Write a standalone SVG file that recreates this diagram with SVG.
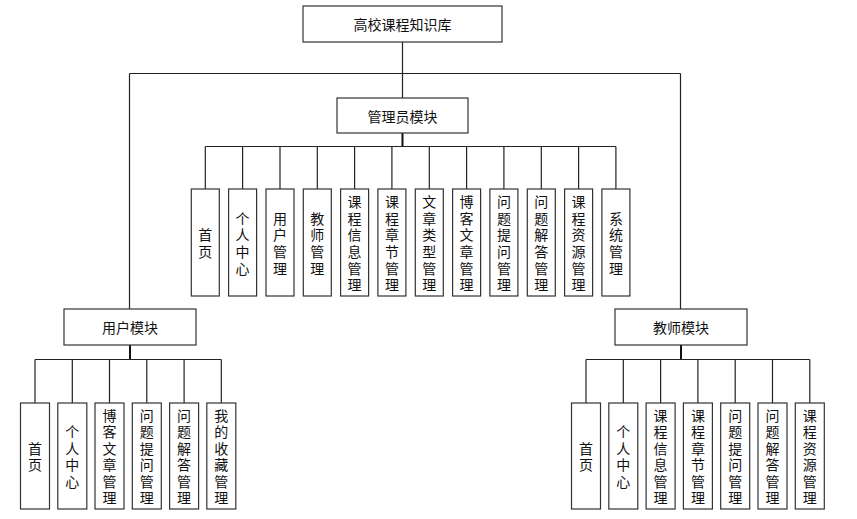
<svg xmlns="http://www.w3.org/2000/svg" width="857" height="519" viewBox="0 0 857 519">
<style>
.bg{fill:#fff}
.box{fill:#fff;stroke:#333;stroke-width:1.2}
.ln{fill:none;stroke:#222;stroke-width:1.2}
.stub{fill:none;stroke:#111;stroke-width:2}
.t{font-family:"Noto Sans CJK SC","Microsoft YaHei",sans-serif;font-size:14px;fill:#111;text-anchor:middle;dominant-baseline:central}
.v{font-family:"Noto Sans CJK SC","Microsoft YaHei",sans-serif;font-size:14px;fill:#111;text-anchor:middle;dominant-baseline:central}
</style>
<rect class="bg" x="0" y="0" width="857" height="519"/>
<g id="connectors">
<path class="ln" d="M402.5 42 V98"/>
<path class="ln" d="M129.5 73.5 H680.5 M129.5 73.5 V309 M680.5 73.5 V309"/>
<path class="stub" d="M402.5 133 V146.5"/>
<path class="ln" d="M205.3 146.5 H615.9 M205.3 146.5 V189 M242.6 146.5 V189 M280 146.5 V189 M317.3 146.5 V189 M354.6 146.5 V189 M391.9 146.5 V189 M429.3 146.5 V189 M466.6 146.5 V189 M503.9 146.5 V189 M541.3 146.5 V189 M578.6 146.5 V189 M615.9 146.5 V189"/>
<path class="stub" d="M130 345 V359.5"/>
<path class="ln" d="M35 359.5 H221.3 M35 359.5 V403 M72.3 359.5 V403 M109.5 359.5 V403 M146.8 359.5 V403 M184.1 359.5 V403 M221.3 359.5 V403"/>
<path class="stub" d="M681 345 V359.5"/>
<path class="ln" d="M586 359.5 H809.8 M586 359.5 V403 M623.3 359.5 V403 M660.6 359.5 V403 M697.9 359.5 V403 M735.2 359.5 V403 M772.5 359.5 V403 M809.8 359.5 V403"/>
</g>
<g id="root"><rect class="box" x="303" y="6" width="199" height="36"/><text class="t" x="402.5" y="24">高校课程知识库</text></g>
<g id="admin"><rect class="box" x="337" y="98" width="131" height="35"/><text class="t" x="402.5" y="115.5">管理员模块</text></g>
<g id="user"><rect class="box" x="64" y="309" width="132" height="36"/><text class="t" x="130" y="327">用户模块</text></g>
<g id="teacher"><rect class="box" x="615" y="309" width="132" height="36"/><text class="t" x="681" y="327">教师模块</text></g>

<g id="a1"><rect class="box" x="191.3" y="189" width="28" height="107"/><text class="v" x="205.3"><tspan x="205.3" y="234.2">首</tspan><tspan x="205.3" y="250.9">页</tspan></text></g>
<g id="a2"><rect class="box" x="228.6" y="189" width="28" height="107"/><text class="v"><tspan x="242.6" y="217.5">个</tspan><tspan x="242.6" y="234.2">人</tspan><tspan x="242.6" y="250.9">中</tspan><tspan x="242.6" y="267.6">心</tspan></text></g>
<g id="a3"><rect class="box" x="266" y="189" width="28" height="107"/><text class="v"><tspan x="280" y="217.5">用</tspan><tspan x="280" y="234.2">户</tspan><tspan x="280" y="250.9">管</tspan><tspan x="280" y="267.6">理</tspan></text></g>
<g id="a4"><rect class="box" x="303.3" y="189" width="28" height="107"/><text class="v"><tspan x="317.3" y="217.5">教</tspan><tspan x="317.3" y="234.2">师</tspan><tspan x="317.3" y="250.9">管</tspan><tspan x="317.3" y="267.6">理</tspan></text></g>
<g id="a5"><rect class="box" x="340.6" y="189" width="28" height="107"/><text class="v"><tspan x="354.6" y="200.8">课</tspan><tspan x="354.6" y="217.5">程</tspan><tspan x="354.6" y="234.2">信</tspan><tspan x="354.6" y="250.9">息</tspan><tspan x="354.6" y="267.6">管</tspan><tspan x="354.6" y="284.3">理</tspan></text></g>
<g id="a6"><rect class="box" x="377.9" y="189" width="28" height="107"/><text class="v"><tspan x="391.9" y="200.8">课</tspan><tspan x="391.9" y="217.5">程</tspan><tspan x="391.9" y="234.2">章</tspan><tspan x="391.9" y="250.9">节</tspan><tspan x="391.9" y="267.6">管</tspan><tspan x="391.9" y="284.3">理</tspan></text></g>
<g id="a7"><rect class="box" x="415.3" y="189" width="28" height="107"/><text class="v"><tspan x="429.3" y="200.8">文</tspan><tspan x="429.3" y="217.5">章</tspan><tspan x="429.3" y="234.2">类</tspan><tspan x="429.3" y="250.9">型</tspan><tspan x="429.3" y="267.6">管</tspan><tspan x="429.3" y="284.3">理</tspan></text></g>
<g id="a8"><rect class="box" x="452.6" y="189" width="28" height="107"/><text class="v"><tspan x="466.6" y="200.8">博</tspan><tspan x="466.6" y="217.5">客</tspan><tspan x="466.6" y="234.2">文</tspan><tspan x="466.6" y="250.9">章</tspan><tspan x="466.6" y="267.6">管</tspan><tspan x="466.6" y="284.3">理</tspan></text></g>
<g id="a9"><rect class="box" x="489.9" y="189" width="28" height="107"/><text class="v"><tspan x="503.9" y="200.8">问</tspan><tspan x="503.9" y="217.5">题</tspan><tspan x="503.9" y="234.2">提</tspan><tspan x="503.9" y="250.9">问</tspan><tspan x="503.9" y="267.6">管</tspan><tspan x="503.9" y="284.3">理</tspan></text></g>
<g id="a10"><rect class="box" x="527.3" y="189" width="28" height="107"/><text class="v"><tspan x="541.3" y="200.8">问</tspan><tspan x="541.3" y="217.5">题</tspan><tspan x="541.3" y="234.2">解</tspan><tspan x="541.3" y="250.9">答</tspan><tspan x="541.3" y="267.6">管</tspan><tspan x="541.3" y="284.3">理</tspan></text></g>
<g id="a11"><rect class="box" x="564.6" y="189" width="28" height="107"/><text class="v"><tspan x="578.6" y="200.8">课</tspan><tspan x="578.6" y="217.5">程</tspan><tspan x="578.6" y="234.2">资</tspan><tspan x="578.6" y="250.9">源</tspan><tspan x="578.6" y="267.6">管</tspan><tspan x="578.6" y="284.3">理</tspan></text></g>
<g id="a12"><rect class="box" x="601.9" y="189" width="28" height="107"/><text class="v"><tspan x="615.9" y="217.5">系</tspan><tspan x="615.9" y="234.2">统</tspan><tspan x="615.9" y="250.9">管</tspan><tspan x="615.9" y="267.6">理</tspan></text></g>

<g id="u1"><rect class="box" x="20.5" y="403" width="29" height="106"/><text class="v"><tspan x="35" y="447.8">首</tspan><tspan x="35" y="464.2">页</tspan></text></g>
<g id="u2"><rect class="box" x="57.8" y="403" width="29" height="106"/><text class="v"><tspan x="72.3" y="431.4">个</tspan><tspan x="72.3" y="447.8">人</tspan><tspan x="72.3" y="464.2">中</tspan><tspan x="72.3" y="480.6">心</tspan></text></g>
<g id="u3"><rect class="box" x="95" y="403" width="29" height="106"/><text class="v"><tspan x="109.5" y="415">博</tspan><tspan x="109.5" y="431.4">客</tspan><tspan x="109.5" y="447.8">文</tspan><tspan x="109.5" y="464.2">章</tspan><tspan x="109.5" y="480.6">管</tspan><tspan x="109.5" y="497">理</tspan></text></g>
<g id="u4"><rect class="box" x="132.3" y="403" width="29" height="106"/><text class="v"><tspan x="146.8" y="415">问</tspan><tspan x="146.8" y="431.4">题</tspan><tspan x="146.8" y="447.8">提</tspan><tspan x="146.8" y="464.2">问</tspan><tspan x="146.8" y="480.6">管</tspan><tspan x="146.8" y="497">理</tspan></text></g>
<g id="u5"><rect class="box" x="169.6" y="403" width="29" height="106"/><text class="v"><tspan x="184.1" y="415">问</tspan><tspan x="184.1" y="431.4">题</tspan><tspan x="184.1" y="447.8">解</tspan><tspan x="184.1" y="464.2">答</tspan><tspan x="184.1" y="480.6">管</tspan><tspan x="184.1" y="497">理</tspan></text></g>
<g id="u6"><rect class="box" x="206.8" y="403" width="29" height="106"/><text class="v"><tspan x="221.3" y="415">我</tspan><tspan x="221.3" y="431.4">的</tspan><tspan x="221.3" y="447.8">收</tspan><tspan x="221.3" y="464.2">藏</tspan><tspan x="221.3" y="480.6">管</tspan><tspan x="221.3" y="497">理</tspan></text></g>

<g id="t1"><rect class="box" x="571.5" y="403" width="29" height="106"/><text class="v"><tspan x="586" y="447.8">首</tspan><tspan x="586" y="464.2">页</tspan></text></g>
<g id="t2"><rect class="box" x="608.8" y="403" width="29" height="106"/><text class="v"><tspan x="623.3" y="431.4">个</tspan><tspan x="623.3" y="447.8">人</tspan><tspan x="623.3" y="464.2">中</tspan><tspan x="623.3" y="480.6">心</tspan></text></g>
<g id="t3"><rect class="box" x="646.1" y="403" width="29" height="106"/><text class="v"><tspan x="660.6" y="415">课</tspan><tspan x="660.6" y="431.4">程</tspan><tspan x="660.6" y="447.8">信</tspan><tspan x="660.6" y="464.2">息</tspan><tspan x="660.6" y="480.6">管</tspan><tspan x="660.6" y="497">理</tspan></text></g>
<g id="t4"><rect class="box" x="683.4" y="403" width="29" height="106"/><text class="v"><tspan x="697.9" y="415">课</tspan><tspan x="697.9" y="431.4">程</tspan><tspan x="697.9" y="447.8">章</tspan><tspan x="697.9" y="464.2">节</tspan><tspan x="697.9" y="480.6">管</tspan><tspan x="697.9" y="497">理</tspan></text></g>
<g id="t5"><rect class="box" x="720.7" y="403" width="29" height="106"/><text class="v"><tspan x="735.2" y="415">问</tspan><tspan x="735.2" y="431.4">题</tspan><tspan x="735.2" y="447.8">提</tspan><tspan x="735.2" y="464.2">问</tspan><tspan x="735.2" y="480.6">管</tspan><tspan x="735.2" y="497">理</tspan></text></g>
<g id="t6"><rect class="box" x="758" y="403" width="29" height="106"/><text class="v"><tspan x="772.5" y="415">问</tspan><tspan x="772.5" y="431.4">题</tspan><tspan x="772.5" y="447.8">解</tspan><tspan x="772.5" y="464.2">答</tspan><tspan x="772.5" y="480.6">管</tspan><tspan x="772.5" y="497">理</tspan></text></g>
<g id="t7"><rect class="box" x="795.3" y="403" width="29" height="106"/><text class="v"><tspan x="809.8" y="415">课</tspan><tspan x="809.8" y="431.4">程</tspan><tspan x="809.8" y="447.8">资</tspan><tspan x="809.8" y="464.2">源</tspan><tspan x="809.8" y="480.6">管</tspan><tspan x="809.8" y="497">理</tspan></text></g>
</svg>
